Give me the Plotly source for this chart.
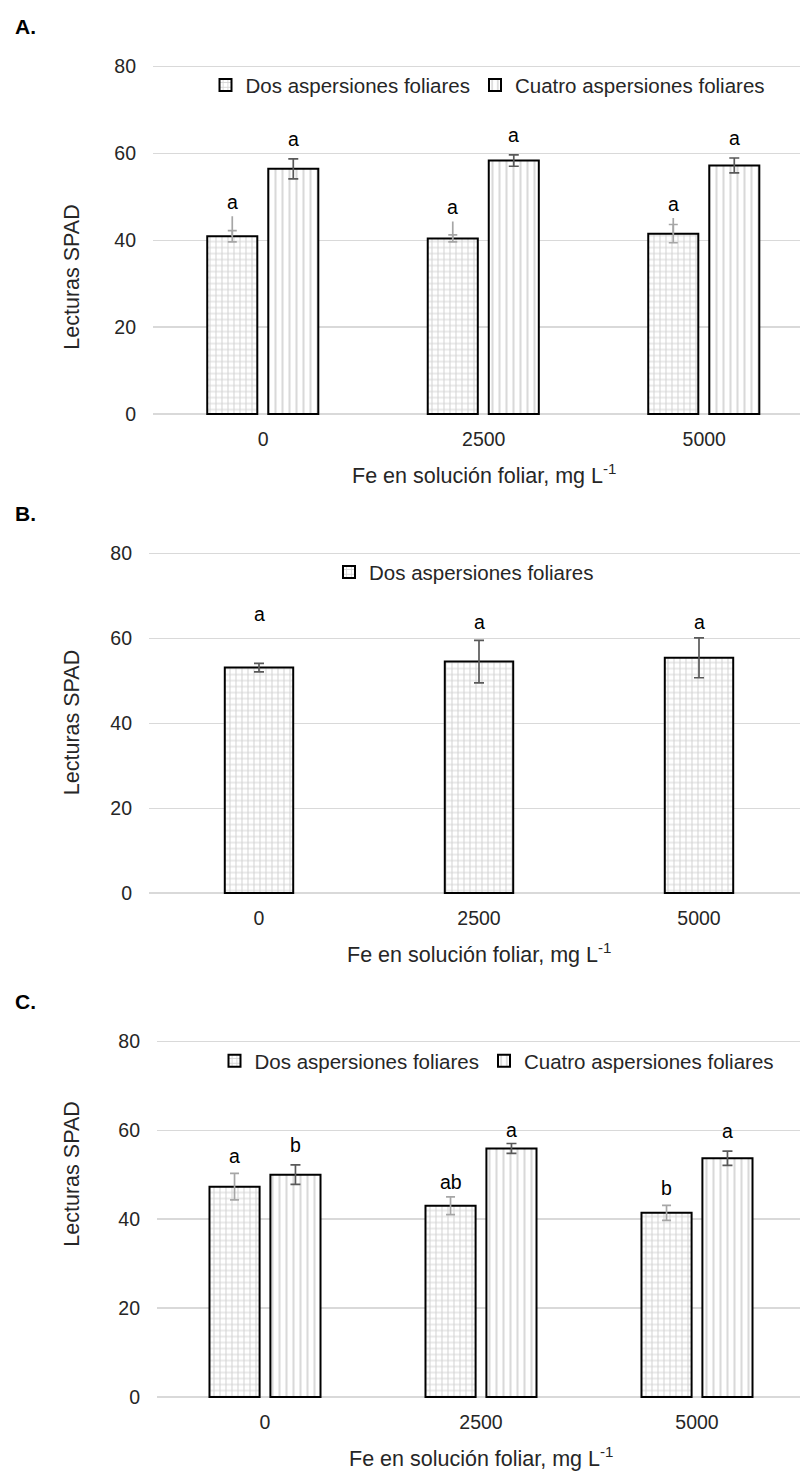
import plotly.graph_objects as go

# ---------------- data ----------------
categories = ["0", "2500", "5000"]
series_names = ["Dos aspersiones foliares", "Cuatro aspersiones foliares"]
y_ticks = [0, 20, 40, 60, 80]

# Panel A
a_dos = [40.9, 40.4, 41.5]
a_dos_err = [1.3, 0.8, 2.1]
a_dos_whisker_top = [45.5, 44.3, 45.1]
a_cuatro = [56.4, 58.3, 57.2]
a_cuatro_err = [2.3, 1.3, 1.7]
a_dos_letters = ["a", "a", "a"]
a_cuatro_letters = ["a", "a", "a"]

# Panel B
b_dos = [53.1, 54.5, 55.4]
b_dos_err = [1.0, 5.0, 4.7]
b_dos_letters = ["a", "a", "a"]

# Panel C
c_dos = [47.3, 43.0, 41.4]
c_dos_err = [3.0, 2.0, 1.7]
c_cuatro = [50.0, 55.9, 53.7]
c_cuatro_err = [2.2, 1.1, 1.6]
c_dos_letters = ["a", "ab", "b"]
c_cuatro_letters = ["b", "a", "a"]

# ---------------- style / layout ----------------
W, H = 800, 1479
FONT = "Liberation Sans, Arial, sans-serif"
TXT = "#262626"
FS = 19.5
LFS = 20.5
GRID = "#d9d9d9"
PAD = 0.4  # small range padding so the 0 and 80 gridlines are drawn
idx = list(range(len(categories)))

def py(px):
    return 1 - px / H

# panel geometry in px: (plot left, category spacing, y of 80, y of 0)
panels = {
    "A": dict(left=153, step=220.5, top=58, bot=410),
    "B": dict(left=149, step=220.0, top=551, bot=895),
    "C": dict(left=157, step=216.0, top=1045, bot=1405),
}

dos_pattern = dict(shape="+", fgcolor="#a9a9a9", bgcolor="white", size=6, solidity=0.32)
cua_pattern = dict(shape="|", fgcolor="#b4b4b4", bgcolor="white", size=7, solidity=0.3)

fig = go.Figure()
annotations = []

def add_bars(ax, leg, vals, name, pattern, off, w, showlegend):
    fig.add_trace(go.Bar(
        x=idx, y=vals, name=name, width=w, offset=off,
        xaxis="x" + ax, yaxis="y" + ax, legend=leg, showlegend=showlegend,
        marker=dict(color="white", line=dict(color="black", width=2), pattern=pattern),
        hoverinfo="skip",
    ))

def add_err(ax, vals, err, off, w, color, cap, plus=None, minus=None):
    ex = [i + off + w / 2 for i in idx]
    if plus is None:
        e = dict(type="data", array=err, color=color, thickness=1.7, width=cap)
    else:
        e = dict(type="data", symmetric=False, array=plus, arrayminus=minus,
                 color=color, thickness=1.7, width=cap)
    fig.add_trace(go.Scatter(
        x=ex, y=vals, mode="markers", marker=dict(size=2, opacity=0),
        xaxis="x" + ax, yaxis="y" + ax, showlegend=False, hoverinfo="skip",
        error_y=e,
    ))

def add_letters(ax, tops, letters, off, w, shifts):
    for i, (t, l, s) in enumerate(zip(tops, letters, shifts)):
        annotations.append(dict(
            x=i + off + w / 2, y=t, xref="x" + ax, yref="y" + ax, text=l,
            showarrow=False, yanchor="middle", yshift=s,
            font=dict(family=FONT, size=FS, color="black"),
        ))

# ---- Panel A ----
wA, offA_d, offA_c = 0.227, -0.254, 0.0227
add_bars("", "legend", a_dos, series_names[0], dos_pattern, offA_d, wA, True)
add_bars("", "legend", a_cuatro, series_names[1], cua_pattern, offA_c, wA, True)
add_err("", a_dos, None, offA_d, wA, "#a6a6a6", 0,
        plus=[t - v for t, v in zip(a_dos_whisker_top, a_dos)], minus=[0] * 3)
add_err("", a_dos, a_dos_err, offA_d, wA, "#a6a6a6", 4.5)
add_err("", a_cuatro, a_cuatro_err, offA_c, wA, "#595959", 5)
add_letters("", a_dos_whisker_top, a_dos_letters, offA_d, wA, [14, 14, 14])
add_letters("", [v + e for v, e in zip(a_cuatro, a_cuatro_err)],
            a_cuatro_letters, offA_c, wA, [20, 20, 20])

# ---- Panel B ----
wB, offB = 0.311, -0.1555
add_bars("2", "legend2", b_dos, series_names[0], dos_pattern, offB, wB, True)
add_err("2", b_dos, b_dos_err, offB, wB, "#595959", 5)
add_letters("2", [v + e for v, e in zip(b_dos, b_dos_err)],
            b_dos_letters, offB, wB, [49, 18, 16])

# ---- Panel C ----
wC, offC_d, offC_c = 0.232, -0.257, 0.025
add_bars("3", "legend3", c_dos, series_names[0], dos_pattern, offC_d, wC, True)
add_bars("3", "legend3", c_cuatro, series_names[1], cua_pattern, offC_c, wC, True)
add_err("3", c_dos, c_dos_err, offC_d, wC, "#a6a6a6", 4.5)
add_err("3", c_cuatro, c_cuatro_err, offC_c, wC, "#595959", 5)
add_letters("3", [v + e for v, e in zip(c_dos, c_dos_err)],
            c_dos_letters, offC_d, wC, [17, 15, 17])
add_letters("3", [v + e for v, e in zip(c_cuatro, c_cuatro_err)],
            c_cuatro_letters, offC_c, wC, [20, 14, 20])

# ---- axes ----
layout_axes = {}
for k, (name, p) in enumerate(panels.items()):
    suf = "" if k == 0 else str(k + 1)
    right_cat = (W - p["left"]) / p["step"] - 0.5
    ppu = (p["bot"] - p["top"]) / 80.0
    layout_axes["xaxis" + suf] = dict(
        domain=[p["left"] / W, 1], range=[-0.5, right_cat], anchor="y" + suf,
        tickvals=idx, ticktext=categories, showgrid=False, zeroline=False,
        showline=False, ticks="", ticklabelstandoff=10, fixedrange=True,
        tickfont=dict(family=FONT, size=FS, color=TXT),
    )
    layout_axes["yaxis" + suf] = dict(
        domain=[py(p["bot"] + PAD * ppu), py(p["top"] - PAD * ppu)],
        range=[-PAD, 80 + PAD], anchor="x" + suf,
        tickvals=y_ticks, showgrid=True, gridcolor=GRID, gridwidth=1.3,
        zeroline=False, showline=False, ticks="", ticklabelstandoff=16,
        tickfont=dict(family=FONT, size=FS, color=TXT), fixedrange=True,
    )
    # panel letter
    annotations.append(dict(
        x=13 / W, y=py(p["top"] - 40), xref="paper", yref="paper", xanchor="left",
        yanchor="middle", text="<b>%s.</b>" % name, showarrow=False,
        font=dict(family=FONT, size=21, color="black"),
    ))
    # x title
    annotations.append(dict(
        x=(p["left"] + 1.5 * p["step"]) / W, y=py(p["bot"] + 61), xref="paper", yref="paper",
        xanchor="center", yanchor="middle",
        text="Fe en solución foliar, mg L<sup>-1</sup>", showarrow=False,
        font=dict(family=FONT, size=21.5, color=TXT),
    ))

# y titles
for yc in [272, 723, 1180]:
    annotations.append(dict(
        x=72 / W, y=py(yc), xref="paper", yref="paper", xanchor="center", yanchor="middle",
        text="Lecturas SPAD", textangle=-90, showarrow=False,
        font=dict(family=FONT, size=21.5, color=TXT),
    ))

leg_common = dict(orientation="h", xanchor="center", yanchor="middle",
                  bgcolor="rgba(0,0,0,0)", font=dict(family=FONT, size=LFS, color=TXT),
                  itemwidth=30, traceorder="normal")

fig.update_layout(
    width=W, height=H, autosize=False,
    margin=dict(l=0, r=0, t=0, b=0),
    paper_bgcolor="white", plot_bgcolor="white",
    barmode="overlay", bargap=0,
    showlegend=True,
    legend=dict(x=488 / W, y=py(77), **leg_common),
    legend2=dict(x=464 / W, y=py(570), **leg_common),
    legend3=dict(x=497 / W, y=py(1065), **leg_common),
    annotations=annotations,
    **layout_axes,
)

fig.write_html(
    "out.html",
    config={"displayModeBar": False, "staticPlot": True},
    post_script="document.body.style.margin='0';document.body.style.overflow='hidden';",
)
